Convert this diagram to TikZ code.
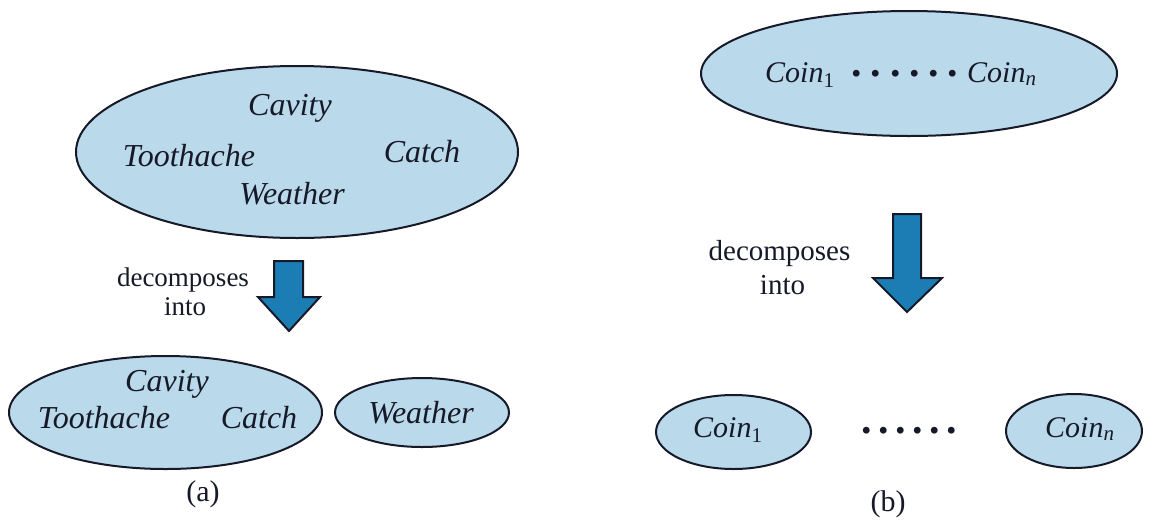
\documentclass[tikz,border=0pt]{standalone}
\usepackage{fontspec}
\setmainfont{Liberation Serif}[ItalicFont={Liberation Serif Italic}, BoldFont={Liberation Serif Bold}]
\usetikzlibrary{shapes.geometric}
\definecolor{ellfill}{RGB}{186,217,234}
\definecolor{arrfill}{RGB}{27,125,180}
\definecolor{ink}{RGB}{22,26,40}
\newcommand{\dotrow}[1]{.\kern#1.\kern#1.\kern#1.\kern#1.\kern#1.}
\begin{document}
\begin{tikzpicture}[x=1pt,y=-1pt,
  blob/.style={ellipse, draw=ink, fill=ellfill, line width=2pt, inner sep=0pt},
  vara/.style={font=\fontsize{32}{38}\selectfont\itshape, text=ink, inner sep=0pt, anchor=base},
  varb/.style={font=\fontsize{30}{36}\selectfont\itshape, text=ink, inner sep=0pt, anchor=base west},
  lbla/.style={font=\fontsize{27}{32}\selectfont, text=ink, inner sep=0pt, anchor=base},
  lblb/.style={font=\fontsize{29}{34}\selectfont, text=ink, inner sep=0pt, anchor=base},
  caption/.style={font=\fontsize{30}{36}\selectfont, text=ink, inner sep=0pt, anchor=base},
  dotsnode/.style={font=\fontsize{42}{46}\selectfont\bfseries, text=ink, inner sep=0pt},
  blockarrow/.style={draw=ink, fill=arrfill, line width=2pt, line join=miter}
]
\useasboundingbox (0,0) rectangle (1159,523);

% ---------- (a) ----------
\node[blob, minimum width=442pt, minimum height=172pt] (ajoint) at (297,152) {};
\node[vara] (acav) at (290,115) {Cavity};
\node[vara] (atoo) at (189,166) {Toothache};
\node[vara] (acat) at (422,162) {Catch};
\node[vara] (awea) at (292,204) {Weather};

\node[lbla] (adec) at (183,286) {decomposes};
\node[lbla] (ainto) at (185,315) {into};
\draw[blockarrow] (274,261) -- (303,261) -- (303,297) -- (320,297) -- (289,331) -- (258,297) -- (274,297) -- cycle;

\node[blob, minimum width=313pt, minimum height=113pt] (aleft) at (165.5,412.5) {};
\node[blob, minimum width=174pt, minimum height=69pt] (aright) at (422,412.5) {};
\node[vara] (bcav) at (167,391) {Cavity};
\node[vara] (btoo) at (104,428) {Toothache};
\node[vara] (bcat) at (259,428) {Catch};
\node[vara] (bwea) at (421,423) {Weather};
\node[caption] (capa) at (203,501) {(a)};

% ---------- (b) ----------
\node[blob, minimum width=416pt, minimum height=125pt] (bjoint) at (909,73.5) {};
\node[varb] (tc1) at (765,82) {Coin\textsubscript{\upshape 1}};
\node[dotsnode] (tdots) at (905,74) {\dotrow{8.7pt}};
\node[varb] (tcn) at (967,82) {Coin\textsubscript{n}};

\node[lblb] (bdec) at (779.5,260) {decomposes};
\node[lblb] (binto) at (782.5,294) {into};
\draw[blockarrow] (893,214) -- (921,214) -- (921,278) -- (942,278) -- (907,312) -- (873,278) -- (893,278) -- cycle;

\node[blob, minimum width=155pt, minimum height=74pt] (bc1e) at (733.5,432) {};
\node[blob, minimum width=136pt, minimum height=74pt] (bcne) at (1074,431) {};
\node[varb] (bc1) at (693,437) {Coin\textsubscript{\upshape 1}};
\node[dotsnode] (bdots) at (909.5,431) {\dotrow{6.5pt}};
\node[varb] (bcn) at (1045,437) {Coin\textsubscript{n}};
\node[caption] (capb) at (888,511) {(b)};
\end{tikzpicture}
\end{document}
